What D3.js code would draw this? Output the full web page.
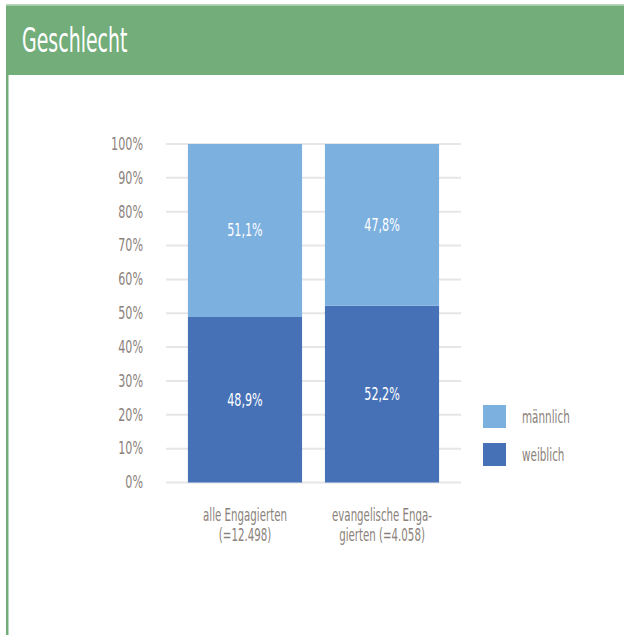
<!DOCTYPE html>
<html>
<head>
<meta charset="utf-8">
<script src="https://cdn.jsdelivr.net/npm/d3@7"></script>
<style>
  html, body { margin: 0; padding: 0; background: #fff; }
  svg { display: block; }
  text { font-family: "Liberation Sans Narrow", "DejaVu Sans Condensed", sans-serif; }
</style>
</head>
<body>
<svg id="svg_main" width="624" height="635"></svg>
<script>
// chart data
var categories = ['alle Engagierten (=12.498)', 'evangelische Engagierten (=4.058)']
var cat_lines = [['alle Engagierten', '(=12.498)'], ['evangelische Enga-', 'gierten (=4.058)']]
var weiblich = [48.9, 52.2]
var maennlich = [51.1, 47.8]
var series_names = ['männlich', 'weiblich']
var y_ticks = [0, 10, 20, 30, 40, 50, 60, 70, 80, 90, 100]

var green = '#72ad7a',
    light_blue = '#7cb0df',
    dark_blue = '#4671b7',
    text_grey = '#8b827b',
    grid_grey = '#e6e6e6';

var SX = 0.69; // squeeze text to look like a condensed face

var svg = d3.select('#svg_main')

// header band + left border
svg.append('rect').attr('x', 6).attr('y', 4).attr('width', 618).attr('height', 1.5).attr('fill', '#b5d6b8')
svg.append('rect').attr('x', 6).attr('y', 5.5).attr('width', 618).attr('height', 69.5).attr('fill', green)
svg.append('rect').attr('x', 6).attr('y', 75).attr('width', 2.5).attr('height', 560).attr('fill', green)

function squeezed(g, x, y, str, size, anchor, fill, sx) {
    return g.append('text')
        .attr('transform', 'translate(' + x + ',' + y + ') scale(' + (sx || SX) + ',1)')
        .attr('text-anchor', anchor)
        .attr('dominant-baseline', 'central')
        .attr('font-size', size)
        .attr('fill', fill)
        .text(str)
}

squeezed(svg, 22, 41, 'Geschlecht', 34, 'start', '#fff', 0.62)

// scales
const y = d3.scaleLinear().domain([0, 100]).range([482.5, 144])
const x = d3.scaleBand().domain(categories).range([166, 461]).paddingInner(0.167).paddingOuter(0.16)

// grid
var grid = svg.append('g')
grid.selectAll('line')
    .data(y_ticks)
    .enter()
    .append('line')
    .attr('x1', 166).attr('x2', 461)
    .attr('y1', function(d){ return y(d) })
    .attr('y2', function(d){ return y(d) })
    .attr('stroke', grid_grey)
    .attr('stroke-width', 2)

// tick labels
var ticks = svg.append('g')
y_ticks.forEach(function(t){
    squeezed(ticks, 143, y(t), t + '%', 18, 'end', text_grey)
})

// stacked bars
var stack_data = categories.map(function(c, i){
    return { cat: c, weiblich: weiblich[i], 'männlich': maennlich[i] }
})
var stacked = d3.stack().keys(['weiblich', 'männlich'])(stack_data)
var colors = { 'weiblich': dark_blue, 'männlich': light_blue }

var bars = svg.append('g')
stacked.forEach(function(layer){
    bars.selectAll('rect.' + layer.key)
        .data(layer)
        .enter()
        .append('rect')
        .attr('x', function(d){ return x(d.data.cat) })
        .attr('width', x.bandwidth())
        .attr('y', function(d){ return y(d[1]) })
        .attr('height', function(d){ return y(d[0]) - y(d[1]) })
        .attr('fill', colors[layer.key])

    layer.forEach(function(d){
        var v = d[1] - d[0]
        squeezed(bars, x(d.data.cat) + x.bandwidth() / 2, (y(d[0]) + y(d[1])) / 2,
            v.toFixed(1).replace('.', ',') + '%', 18, 'middle', '#fff')
    })
})

// category labels
categories.forEach(function(c, i){
    cat_lines[i].forEach(function(line, j){
        squeezed(svg, x(c) + x.bandwidth() / 2, 515 + j * 20, line, 17, 'middle', text_grey, 0.67)
    })
})

// legend
series_names.forEach(function(s, i){
    var ly = 405 + i * 38
    svg.append('rect').attr('x', 483).attr('y', ly).attr('width', 23).attr('height', 23).attr('fill', colors[s])
    squeezed(svg, 522, ly + 12, s, 17, 'start', text_grey, 0.68)
})
</script>
</body>
</html>
